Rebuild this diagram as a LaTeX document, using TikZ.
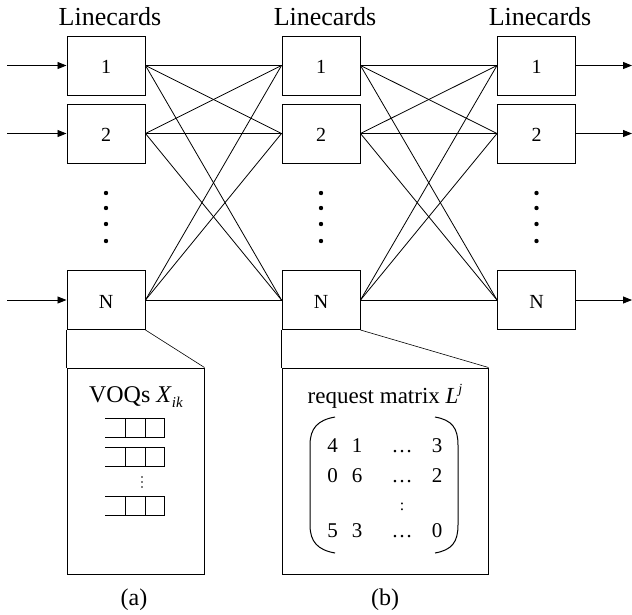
\documentclass[tikz,border=0pt]{standalone}
\usepackage{fontspec}
\setmainfont{Liberation Serif}
\usetikzlibrary{arrows.meta}
\newcommand{\fs}[1]{\fontsize{#1}{#1}\selectfont}
\begin{document}
\begin{tikzpicture}[x=1pt,y=-1pt,
  card/.style={draw, line width=1pt, minimum width=78pt, minimum height=59pt, inner sep=0pt,
    text height=16pt, text depth=0pt, font=\fs{20}},
  link/.style={line width=0.8pt},
  io/.style={line width=0.8pt,-{Triangle[length=9pt,width=7pt]}},
  ttl/.style={font=\fs{26}, anchor=base},
  zbox/.style={draw, line width=1pt, minimum height=206pt, inner sep=0pt},
  captxt/.style={font=\fs{24}},
  ent/.style={font=\fs{21}, anchor=base},
  dot/.style={fill=black}
]
\useasboundingbox (0,0) rectangle (632,614);

% titles
\node[ttl] (t1) at (110,25) {Linecards};
\node[ttl] (t2) at (325,25) {Linecards};
\node[ttl] (t3) at (540,25) {Linecards};

% linecards
\node[card] (a1) at (106,65.5) {1};
\node[card] (a2) at (106,133.5) {2};
\node[card] (aN) at (106,300) {N};
\node[card] (b1) at (321,65.5) {1};
\node[card] (b2) at (321,133.5) {2};
\node[card] (bN) at (321,300) {N};
\node[card] (c1) at (536.5,65.5) {1};
\node[card] (c2) at (536.5,133.5) {2};
\node[card] (cN) at (536.5,300) {N};

% dots
\foreach \xx in {106,321,536.5}
  \foreach \yy in {193,208,224,241}
    \fill[dot] (\xx,\yy) circle (2.2);

% meshes
\foreach \i in {1,2,N}
  \foreach \j in {1,2,N} {
    \draw[link] (a\i.east) -- (b\j.west);
    \draw[link] (b\i.east) -- (c\j.west);
  }

% inputs / outputs
\coordinate (in1) at (7,65.5);
\coordinate (in2) at (7,133.5);
\coordinate (inN) at (7,300);
\coordinate (out1) at (632,65.5);
\coordinate (out2) at (632,133.5);
\coordinate (outN) at (632,300);
\draw[io] (in1) -- (a1.west);
\draw[io] (in2) -- (a2.west);
\draw[io] (inN) -- (aN.west);
\draw[io] (c1.east) -- (out1);
\draw[io] (c2.east) -- (out2);
\draw[io] (cN.east) -- (outN);

% zoom boxes
\node[zbox, minimum width=137pt] (za) at (135.5,471) {};
\node[zbox, minimum width=206pt] (zb) at (385,471) {};
\draw[line width=1pt] (aN.south west) -- (za.north west);
\draw[line width=0.6pt] (aN.south east) -- (za.north east);
\draw[line width=1pt] (bN.south west) -- (zb.north west);
\draw[line width=0.6pt] (bN.south east) -- (zb.north east);

% VOQs
\node[font=\fs{24}, anchor=base] (voq) at (136,402) {VOQs \textit{X}\raisebox{-0.22em}{\fs{15}\textit{ik}}};
\foreach \t in {418,447,496}
  \draw[line width=0.9pt] (105,\t) -- (164,\t) (105,\t+19.5) -- (164,\t+19.5)
    (125,\t) -- (125,\t+19.5) (145,\t) -- (145,\t+19.5) (164,\t) -- (164,\t+19.5);
\foreach \yy in {477,482,487}
  \fill[dot] (142,\yy) circle (0.8);

% request matrix
\node[font=\fs{23}, anchor=base] (req) at (385,403) {request matrix \textit{L}\raisebox{0.42em}{\fs{14}\textit{j}}};
\draw[line width=1pt] (335,417) .. controls (318,420) and (310,428) .. (310,445) -- (310,525)
  .. controls (310,542) and (318,550) .. (335,553);
\draw[line width=1pt] (435,417) .. controls (452,420) and (458,428) .. (458,445) -- (458,525)
  .. controls (458,542) and (452,550) .. (435,553);
\node[ent] (m11) at (332.5,452) {4};
\node[ent] (m12) at (357,452) {1};
\node[ent] (m13) at (402,452) {…};
\node[ent] (m14) at (437,452) {3};
\node[ent] (m21) at (332.5,482) {0};
\node[ent] (m22) at (357,482) {6};
\node[ent] (m23) at (402,482) {…};
\node[ent] (m24) at (437,482) {2};
\node[font=\fs{16}] (m33) at (402,507) {:};
\node[ent] (m41) at (332.5,537) {5};
\node[ent] (m42) at (357,537) {3};
\node[ent] (m43) at (402,537) {…};
\node[ent] (m44) at (437,537) {0};

% captions
\node[captxt] (capa) at (134,600) {(a)};
\node[captxt] (capb) at (385,600) {(b)};
\end{tikzpicture}
\end{document}
